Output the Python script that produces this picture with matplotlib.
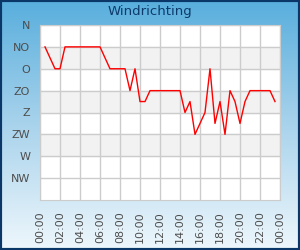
import numpy as np
import matplotlib.pyplot as plt
from matplotlib.colors import LinearSegmentedColormap
from matplotlib.patches import Rectangle

# Wind direction readings, every half hour (degrees, 0 = N)
hours = [0.5, 1.0, 1.5, 2.0, 2.5, 3.0, 3.5, 4.0, 4.5, 5.0, 5.5, 6.0,
         6.5, 7.0, 7.5, 8.0, 8.5, 9.0, 9.5, 10.0, 10.5, 11.0, 11.5, 12.0,
         12.5, 13.0, 13.5, 14.0, 14.5, 15.0, 15.5, 16.0, 16.5, 17.0, 17.5, 18.0,
         18.5, 19.0, 19.5, 20.0, 20.5, 21.0, 21.5, 22.0, 22.5, 23.0, 23.5]
direction = [45, 67.5, 90, 90, 45, 45, 45, 45, 45, 45, 45, 45,
             67.5, 90, 90, 90, 90, 135, 90, 157.5, 157.5, 135, 135, 135,
             135, 135, 135, 135, 180, 157.5, 225, 202.5, 180, 90, 202.5, 157.5,
             225, 135, 157.5, 202.5, 157.5, 135, 135, 135, 135, 135, 157.5]

compass = ['N', 'NO', 'O', 'ZO', 'Z', 'ZW', 'W', 'NW']
xlabels = ['00:00', '02:00', '04:00', '06:00', '08:00', '10:00', '12:00',
           '14:00', '16:00', '18:00', '20:00', '22:00', '00:00']

fig = plt.figure(figsize=(3, 2.5), dpi=100)

# gradient background
bg = fig.add_axes([0, 0, 1, 1], zorder=-10)
cmap = LinearSegmentedColormap.from_list('bg', ['#58aedd', '#a9d3ec', '#eef7fc'])
bg.imshow(np.linspace(0, 1, 256).reshape(-1, 1), aspect='auto', cmap=cmap,
          extent=[0, 1, 0, 1])
bg.add_patch(Rectangle((0, 0), 1, 1, transform=bg.transAxes, fill=False,
                       edgecolor='#0b3768', linewidth=3))
bg.axis('off')

ax = fig.add_axes([40 / 300, 50 / 250, 240 / 300, 175 / 250])
ax.set_facecolor('white')
for lo in [45, 135, 225]:
    ax.axhspan(lo, lo + 45, color='#f2f2f2', zorder=0)
ax.plot(hours, direction, color='red', linewidth=1, zorder=3)

ax.set_xlim(0, 24)
ax.set_ylim(360, 0)
ax.set_xticks(range(0, 25, 2))
ax.set_xticklabels(xlabels, rotation=90)
ax.set_yticks(range(0, 360, 45))
ax.set_yticklabels(compass)
ax.grid(True, color='#cccccc', linewidth=1)
ax.set_axisbelow(True)
ax.tick_params(length=0, labelsize=8, colors='#4d4d4d')
ax.tick_params(axis='x', pad=8)
ax.tick_params(axis='y', pad=7)
for s in ax.spines.values():
    s.set_color('#cccccc')

fig.text(0.5, 1 - 12 / 250, 'Windrichting', ha='center', va='center',
         fontsize=9.5, color='#0d3a6a')

fig.savefig('out.png', dpi=100)
